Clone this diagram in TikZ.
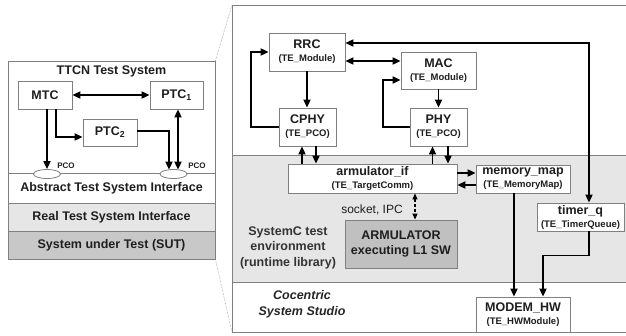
\documentclass[tikz,border=0pt]{standalone}
\usepackage{fontspec}
\setmainfont{Liberation Sans}
\usetikzlibrary{arrows.meta,shapes.geometric,calc}
\definecolor{bordergray}{HTML}{808080}
\definecolor{bandgray}{HTML}{E6E6E6}
\definecolor{sutgray}{HTML}{C8C8C8}
\definecolor{armgray}{HTML}{C0C0C0}
\definecolor{txt}{HTML}{1E1E1E}
\newcommand{\nmfont}{\fontsize{12.5}{14}\bfseries\selectfont}
\newcommand{\smfont}{\fontsize{9.5}{11}\bfseries\selectfont}
\begin{document}
\begin{tikzpicture}[x=1pt,y=-1pt,
  box/.style={draw=bordergray, line width=0.8pt, fill=white, inner sep=0pt, align=center, text=txt,
              font=\fontsize{10}{13}\selectfont},
  band/.style={draw=bordergray, line width=0.8pt, inner sep=0pt, text=txt, font=\nmfont},
  arr/.style={line width=1.8pt, -{Triangle[length=8pt,width=7pt]}},
  darr/.style={line width=1.8pt, {Triangle[length=8pt,width=7pt]}-{Triangle[length=8pt,width=7pt]}},
  dasharr/.style={line width=1.1pt, densely dashed, {Triangle[length=6pt,width=5pt]}-{Triangle[length=6pt,width=5pt]}},
  pco/.style={ellipse, draw=bordergray, line width=0.8pt, fill=white, minimum width=27pt, minimum height=9pt, inner sep=0pt},
  pcolbl/.style={font=\fontsize{8}{9}\bfseries\selectfont, text=txt, inner sep=0pt},
  plain/.style={text=txt, inner sep=0pt, align=center},
  zoomline/.style={draw=bordergray, line width=0.5pt, densely dotted}
]
\clip (0,0) rectangle (626,335);
\useasboundingbox (0,0) rectangle (626,335);

% ---------- left panel ----------
\node[band, fill=white, minimum width=207pt, minimum height=112pt] (ttcn) at (111.5,117) {};
\node[plain, font=\nmfont, anchor=center] (ttcntitle) at (111.5,71) {TTCN Test System};
\node[band, fill=white, minimum width=207pt, minimum height=30pt] (atsi) at (111.5,188) {Abstract Test System Interface};
\node[band, fill=bandgray, minimum width=207pt, minimum height=28pt] (rtsi) at (111.5,217) {Real Test System Interface};
\node[band, fill=sutgray, minimum width=207pt, minimum height=28pt] (sut) at (111.5,245) {System under Test (SUT)};

\node[box, minimum width=54pt, minimum height=28pt] (mtc) at (45,95) {\nmfont MTC};
\node[box, minimum width=53pt, minimum height=28pt] (ptc1) at (176.5,95) {\nmfont PTC\textsubscript{1}};
\node[box, minimum width=54pt, minimum height=27pt] (ptc2) at (110,132.5) {\nmfont PTC\textsubscript{2}};
\node[pco] (pco1) at (47,174) {};
\node[pco] (pco2) at (173.5,174) {};
\node[pcolbl] (pcol1) at (66,166) {PCO};
\node[pcolbl] (pcol2) at (197,166) {PCO};

\draw[darr] (mtc.east) -- (ptc1.west);
\draw[arr] ($(mtc.south)+(2,0)$) -- (pco1.north);
\draw[arr] ($(mtc.south)+(11,0)$) |- ($(ptc2.west)+(0,4.5)$);
\draw[arr] ($(ptc2.east)+(0,-1.5)$) -| ($(pco2.north)+(-4.5,0.5)$);
\draw[darr] ($(ptc1.south)+(1.5,0)$) -- ($(pco2.north)+(4.5,0.5)$);

% ---------- right panel ----------
\coordinate (rpnw) at (232,5);
\coordinate (rpsw) at (232,332);
\draw[draw=bordergray, line width=0.8pt, fill=white] (rpnw) rectangle (660,332);
\draw[draw=bordergray, line width=0.8pt, fill=bandgray] (232,155) rectangle (660,282);
\draw[zoomline] (ttcn.north east) -- (rpnw);
\draw[zoomline] (sut.south east) -- (rpsw);

\node[box, minimum width=76pt, minimum height=38pt] (rrc) at (307,52) {{\nmfont RRC}\\{\smfont (TE\_Module)}};
\node[box, minimum width=75pt, minimum height=37pt] (mac) at (438.5,70.5) {{\nmfont MAC}\\{\smfont (TE\_Module)}};
\node[box, minimum width=57pt, minimum height=38pt] (cphy) at (307.5,127) {{\nmfont CPHY}\\{\smfont (TE\_PCO)}};
\node[box, minimum width=57pt, minimum height=38pt] (phy) at (438.5,127) {{\nmfont PHY}\\{\smfont (TE\_PCO)}};
\node[box, minimum width=169pt, minimum height=29pt] (armif) at (372.5,178.5) {{\nmfont armulator\_if}\\{\smfont (TE\_TargetComm)}};
\node[box, minimum width=94pt, minimum height=28pt] (memmap) at (523,179) {{\nmfont memory\_map}\\{\smfont (TE\_MemoryMap)}};
\node[box, minimum width=87pt, minimum height=28pt] (timerq) at (580.5,217) {{\nmfont timer\_q}\\{\smfont (TE\_TimerQueue)}};
\node[box, fill=armgray, minimum width=112pt, minimum height=48pt, font=\fontsize{12.5}{15}\bfseries\selectfont] (armul) at (401,244) {ARMULATOR\\executing L1 SW};
\node[box, minimum width=94pt, minimum height=35pt] (modem) at (523,314.5) {{\nmfont MODEM\_HW}\\{\smfont (TE\_HWModule)}};

\node[plain, font=\fontsize{12}{14}\selectfont] (socket) at (372,210) {socket, IPC};
\node[plain, font=\fontsize{12.5}{15.5}\bfseries\selectfont, text=black!80] (env) at (288,247.5) {SystemC test\\environment\\(runtime library)};
\node[plain, font=\fontsize{12.5}{16}\bfseries\itshape\selectfont, text=black!85] (cc) at (302,304) {Cocentric\\System Studio};

% connectors
\draw[arr] (rrc.south) -- (rrc.south |- cphy.north);
\draw[arr] (cphy.west) -- ++(-28,0) |- (rrc.west);
\path ($(rrc.east)+(0,9)$) coordinate (rm);
\draw[darr] (rm) -- (rm -| mac.west);
\draw[darr] ($(rrc.east)+(0,-9)$) -| ($(timerq.north)+(8.5,0)$);
\draw[arr] (mac.south) -- (phy.north);
\draw[arr] (phy.west) -- ++(-27,0) |- ($(mac.west)+(0,9.5)$);

\path ($(cphy.south)+(-5.5,0)$) coordinate (c1) ($(cphy.south)+(8.5,0)$) coordinate (c2);
\draw[arr] (c1 |- armif.north) -- (c1);
\draw[arr] (c2) -- (c2 |- armif.north);
\path ($(phy.south)+(-6,0)$) coordinate (p1) ($(phy.south)+(9.5,0)$) coordinate (p2);
\draw[arr] (p1 |- armif.north) -- (p1);
\draw[arr] (p2) -- (p2 |- armif.north);

\path ($(armif.east)+(0,-5.5)$) coordinate (a1) ($(armif.east)+(0,6.5)$) coordinate (a2);
\draw[arr] (a1) -- (a1 -| memmap.west);
\draw[arr] (a2 -| memmap.west) -- (a2);

\path ($(memmap.south)+(-9,0)$) coordinate (m1);
\draw[arr] (m1) -- (m1 |- modem.north);
\draw[arr] ($(timerq.south)+(8.5,0)$) -- ++(0,24) -| ($(modem.north)+(20,0)$);

\path ($(armif.south)+(42.5,0)$) coordinate (d1);
\draw[dasharr] (d1) -- (d1 |- armul.north);
\end{tikzpicture}
\end{document}
